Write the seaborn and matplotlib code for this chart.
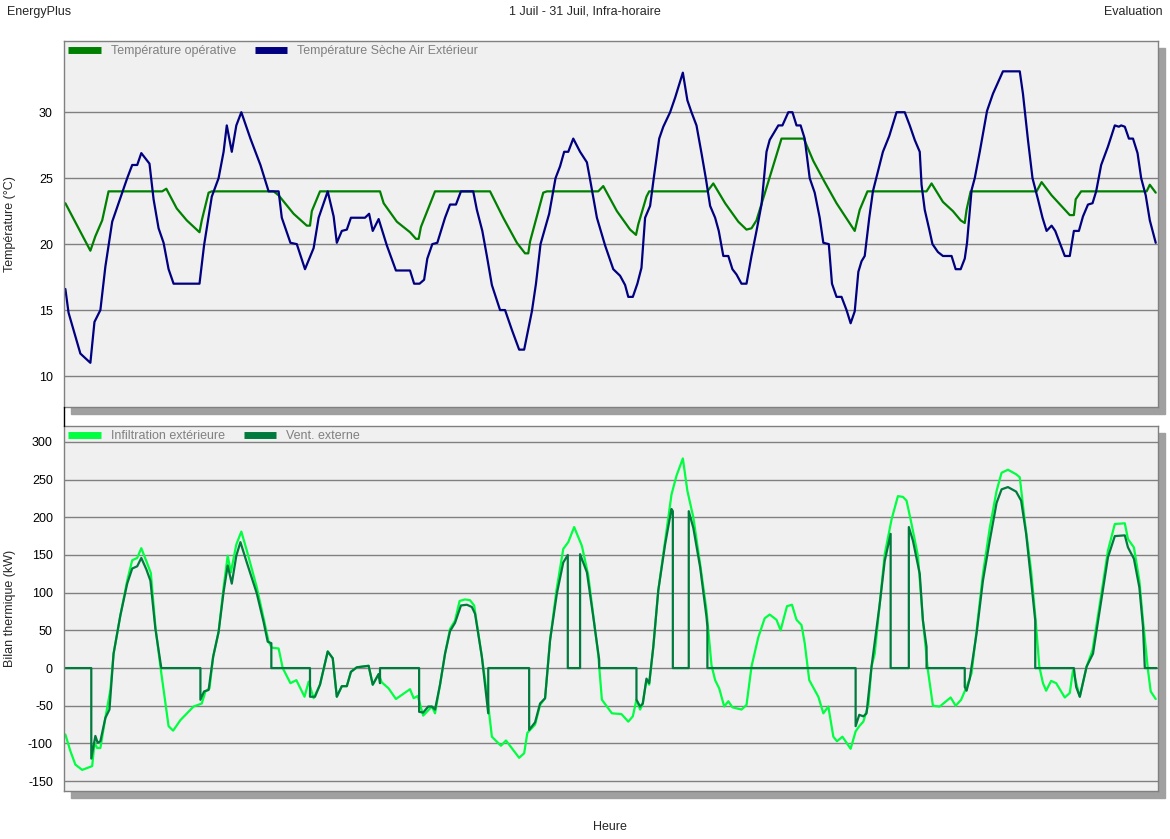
import matplotlib
matplotlib.use("Agg")
import matplotlib.pyplot as plt
import pandas as pd
import seaborn as sns
from matplotlib.lines import Line2D
from matplotlib.patches import Rectangle

# --- data (hours from start of the plotted period) ---
op_hours = [0, 5.5, 6.6, 8.1, 9.5, 21.3, 22.2, 24.5, 26.7, 29.5, 30.0, 31.5, 32.2, 45.8, 46.9, 50.2,
            53.1, 53.8, 54.2, 56.0, 69.2, 70.0, 72.9, 75.8, 77.1, 77.7, 78.2, 81.3, 93.4, 96.3, 99.3,
            101.1, 101.8, 102.2, 105.1, 105.9, 117.2, 118.3, 121.3, 124.2, 125.5, 126.0, 127.8, 128.4,
            141.2, 142.5, 145.1, 148.0, 149.8, 150.9, 152.0, 157.5, 162.4, 164.5, 167.0, 169.6, 173.6,
            174.7, 176.4, 189.4, 190.5, 193.0, 195.2, 196.9, 197.8, 198.2, 199.1, 213.6, 214.7, 216.9,
            220.9, 221.8, 222.2, 223.4, 237.8, 238.5, 239.8]
op_temp = [23.1, 19.5, 20.6, 21.8, 24.0, 24.0, 24.2, 22.7, 21.8, 20.9, 21.8, 23.9, 24.0, 24.0, 23.7, 22.3,
           21.4, 21.4, 22.5, 24.0, 24.0, 23.1, 21.7, 20.9, 20.4, 20.4, 21.3, 24.0, 24.0, 22.0, 20.1,
           19.3, 19.3, 20.2, 23.9, 24.0, 24.0, 24.4, 22.5, 21.1, 20.7, 21.5, 23.6, 24.0,
           24.0, 24.6, 23.1, 21.7, 21.1, 21.2, 21.8, 28.0, 28.0, 26.3, 24.7, 23.1, 21.0,
           22.6, 24.0, 24.0, 24.6, 23.2, 22.5, 21.8, 21.6, 22.6, 24.0, 24.0, 24.7, 23.7,
           22.2, 22.2, 23.4, 24.0, 24.0, 24.5, 23.9]

ext_hours = [0.0, 0.7, 2.2, 3.3, 5.5, 6.4, 7.7, 8.8, 10.3, 11.7, 13.6, 14.7, 15.8, 16.7, 18.5, 19.4, 20.5,
             21.6, 22.7, 23.8, 29.5, 30.5, 32.2, 33.7, 34.8, 35.5, 36.6, 37.6, 38.7, 40.7, 42.9, 44.7,
             46.9, 47.6, 49.5, 50.9, 52.7, 54.6, 55.7, 57.7, 59.0, 59.7, 60.8, 61.9, 62.8, 65.9, 66.8,
             67.6, 68.9, 70.7, 72.7, 75.8, 76.7, 77.9, 78.9, 79.6, 80.7, 81.8, 83.5, 84.6, 85.9, 87.0,
             89.7, 90.5, 91.7, 92.7, 93.8, 95.6, 96.7, 98.2, 99.8, 100.9, 102.6, 103.5, 104.5, 106.4,
             107.8, 108.8, 109.7, 110.6, 111.7, 113.2, 114.7, 115.4, 116.9, 118.7, 120.5, 122.0, 123.1,
             123.8, 124.8, 125.8, 126.7, 127.5, 128.6, 129.4, 130.6, 131.5, 133.0, 134.1, 135.8, 136.8,
             137.7, 138.8, 139.9, 140.9, 141.8, 142.9, 143.7, 144.7, 145.8, 146.7, 147.6, 148.7, 149.8,
             150.9, 152.0, 153.1, 154.2, 154.9, 156.8, 157.7, 159.0, 159.9, 160.8, 161.7, 162.6, 163.7,
             164.8, 165.9, 166.7, 167.9, 168.6, 169.6, 170.7, 171.8, 172.7, 173.6, 174.4, 175.1, 175.8,
             176.8, 177.6, 179.8, 181.2, 182.8, 184.6, 185.7, 186.8, 187.9, 188.3, 189.0, 190.0, 190.7,
             191.9, 193.0, 194.9, 195.8, 196.9, 197.8, 198.3, 199.3, 200.0, 201.1, 202.7, 204.0, 206.2,
             209.9, 210.6, 211.7, 212.7, 213.9, 214.9, 215.8, 216.9, 217.7, 218.7, 219.8, 220.9, 221.8,
             222.9, 223.8, 224.9, 225.9, 226.7, 227.8, 229.3, 230.8, 231.7, 232.2, 233.0, 233.9, 234.8,
             235.8, 236.6, 237.6, 238.5, 239.1, 239.8]
ext_temp = [16.6, 14.8, 13.0, 11.7, 11.0, 14.1, 15.0, 18.3, 21.7, 23.1, 25.0, 26.0, 26.0, 26.9, 26.1, 23.4, 21.2,
            20.1, 18.1, 17.0, 17.0, 19.9, 23.6, 25.0, 27.0, 29.0, 27.0, 29.0, 30.0, 28.0, 26.0, 24.0,
            24.0, 22.0, 20.1, 20.0, 18.1, 19.7, 22.0, 24.0, 22.1, 20.1, 21.0, 21.1, 22.0, 22.0, 22.3,
            21.0, 21.9, 19.9, 18.0, 18.0, 17.0, 17.0, 17.3, 18.9, 20.0, 20.1, 22.0, 23.0, 23.0, 24.0,
            24.0, 22.6, 21.0, 19.1, 16.9, 15.0, 15.0, 13.5, 12.0, 12.0, 14.9, 17.0, 20.0, 22.3,
            25.0, 25.9, 27.0, 27.0, 28.0, 27.0, 26.2, 24.9, 22.0, 19.9, 18.1, 17.6, 16.9,
            16.0, 16.0, 17.0, 18.2, 22.0, 22.9, 25.0, 28.0, 28.9, 30.0, 31.1, 33.0, 30.9,
            30.0, 29.0, 26.9, 24.9, 22.9, 22.0, 21.0, 19.1, 19.1, 18.1, 17.7, 17.0, 17.0,
            19.1, 21.0, 23.0, 27.0, 27.9, 29.0, 29.0, 30.0, 30.0, 29.0, 29.0, 28.0, 25.0,
            23.9, 22.0, 20.1, 20.0, 17.0, 16.0, 16.0, 15.0, 14.0, 14.9, 17.9, 18.7, 19.1,
            22.0, 24.0, 27.0, 28.2, 30.0, 30.0, 29.0, 27.9, 27.0, 24.5, 22.6, 21.1, 20.0,
            19.4, 19.1, 19.1, 18.1, 18.1, 18.9, 20.1, 24.1, 25.0, 27.0, 30.1, 31.4, 33.1,
            33.1, 31.4, 27.9, 25.0, 23.4, 22.0, 21.0, 21.4, 21.0, 20.1, 19.1, 19.1, 21.0,
            21.0, 22.1, 23.0, 23.1, 24.0, 26.0, 27.4, 29.0, 28.9, 29.0, 28.9, 28.0, 28.0,
            26.9, 25.0, 23.7, 21.8, 21.0, 20.1]

inf_hours = [0.0, 1.1, 2.2, 3.7, 5.9, 6.4, 7.0, 7.7, 8.8, 9.9, 10.6, 12.1, 13.6, 14.7, 15.8, 16.7, 17.8,
             18.8, 19.8, 20.9, 22.7, 23.7, 25.3, 28.2, 30.0, 30.8, 31.7, 32.5, 33.7, 34.8, 35.7, 36.4,
             37.6, 38.7, 39.9, 42.1, 43.6, 44.7, 45.4, 46.9, 47.8, 49.5, 50.8, 52.6, 53.5, 54.6, 56.0,
             57.7, 58.8, 59.7, 60.8, 61.9, 62.8, 64.1, 66.7, 67.6, 68.9, 69.6, 71.1, 72.7, 75.8, 76.6,
             77.5, 78.7, 79.8, 80.6, 81.3, 82.4, 83.5, 84.6, 85.7, 86.7, 87.9, 89.0, 89.9, 91.6, 92.8,
             93.8, 95.8, 96.9, 98.4, 99.8, 100.9, 101.6, 103.3, 104.4, 105.5, 106.6, 108.0, 109.5, 110.6,
             111.9, 113.6, 115.0, 117.2, 118.0, 120.2, 122.3, 123.8, 124.8, 125.6, 126.4, 126.9, 127.8,
             128.4, 129.3, 130.4, 131.9, 133.3, 134.4, 135.8, 136.8, 138.1, 139.6, 141.0, 142.1, 142.9,
             143.8, 144.9, 145.8, 146.7, 148.7, 149.8, 150.9, 152.4, 153.8, 154.9, 156.4, 157.3, 158.7,
             159.8, 160.8, 161.9, 162.6, 163.6, 165.6, 166.7, 167.8, 168.9, 169.7, 170.9, 172.7, 173.8,
             174.6, 175.5, 176.6, 177.3, 178.0, 179.1, 180.2, 181.7, 183.1, 184.2, 185.0, 186.1, 187.5,
             188.6, 189.7, 190.8, 192.3, 194.7, 195.8, 197.0, 198.2, 199.3, 200.4, 201.8, 203.3, 204.8,
             205.9, 207.3, 209.1, 209.9, 211.0, 212.4, 213.4, 214.2, 215.0, 215.7, 216.8, 217.9, 219.8,
             220.9, 221.6, 223.1, 224.6, 225.9, 227.5, 229.3, 230.8, 233.0, 233.7, 235.0, 236.2, 237.0,
             238.1, 238.7, 239.8]
inf_kw = [-88, -110, -128, -135, -130, -99, -106, -106, -66, -29, 19, 70, 116, 143, 146, 159, 142,
          126, 55, 2, -77, -83, -69, -51, -47, -31, -27, 15, 48, 107, 149, 127,
          164, 181, 156, 107, 66, 35, 27, 26, 0, -20, -16, -38, -18, -40, -22,
          22, 13, -38, -24, -24, -5, 1, 3, -22, -8, -19, -27, -41, -28, -40,
          -37, -63, -56, -51, -60, -22, 19, 52, 63, 89, 91, 90, 83, 15, -38,
          -91, -103, -96, -108, -119, -113, -86, -75, -49, -40, 37, 103, 158, 167,
          187, 162, 123, 17, -42, -60, -61, -71, -64, -42, -55, -49, -16,
          -22, 28, 103, 169, 230, 255, 278, 235, 200, 138, 77, 4, -16,
          -27, -51, -44, -52, -55, -49, 2, 41, 66, 71, 64, 50, 82,
          84, 64, 57, 33, -16, -38, -60, -51, -91, -97, -91, -107, -84,
          -77, -71, -49, 2, 19, 85, 151, 197, 228, 227, 222, 191, 149,
          63, -3, -50, -51, -39, -50, -42, -25, -7, 50, 125, 186, 235,
          259, 263, 257, 253, 195, 129, 63, 2, -20, -30, -17, -20, -39,
          -33, -3, -38, 2, 24, 85, 156, 191, 192, 171, 160, 116, 63,
          -3, -31, -41]

vent_hours = [0, 5.7, 5.7, 6.6, 7.1, 7.7, 8.8, 9.7, 10.6, 12.1, 13.6, 14.7, 15.8, 16.7, 17.8, 18.7, 19.8,
              21.1, 29.7, 29.7, 30.5, 31.5, 32.5, 33.7, 34.8, 35.7, 36.6, 37.6, 38.5, 39.9, 42.1, 43.6,
              44.5, 45.3, 45.3, 53.8, 53.8, 54.9, 56.0, 57.7, 58.8, 59.7, 60.8, 61.9, 62.8, 64.1, 66.7,
              67.6, 68.9, 69.2, 69.2, 77.8, 77.8, 78.7, 79.8, 80.6, 81.3, 82.4, 83.5, 84.6, 85.7, 87.0,
              88.3, 89.4, 90.1, 91.6, 93.0, 93.0, 102.0, 102.0, 103.3, 104.4, 105.5, 106.6, 108.1, 109.5,
              110.5, 110.5, 113.2, 113.2, 114.7, 116.1, 117.4, 117.4, 125.6, 125.6, 126.4, 127.0, 127.8,
              128.4, 129.3, 130.4, 131.9, 133.3, 133.6, 133.6, 137.1, 137.1, 138.1, 139.6, 141.0, 141.2,
              141.2, 173.8, 173.8, 174.6, 175.5, 176.2, 177.3, 179.1, 180.2, 181.5, 181.5, 185.5, 185.5,
              186.4, 187.9, 188.6, 189.4, 189.4, 197.8, 197.8, 198.2, 198.9, 200.4, 201.8, 203.3, 204.8,
              205.9, 207.3, 209.1, 210.2, 211.3, 212.4, 213.3, 213.3, 221.8, 222.3, 223.1, 224.6, 226.0,
              227.5, 229.3, 230.8, 233.0, 233.7, 235.0, 236.2, 237.0, 237.4, 240.0]
vent_kw = [0, 0, -120, -90, -99, -97, -66, -55, 19, 70, 112, 132, 135, 146, 131, 116, 52,
           0, 0, -42, -31, -29, 15, 48, 101, 136, 112, 149, 167, 140, 99, 61,
           35, 33, 0, 0, -38, -38, -22, 22, 13, -38, -24, -24, -5, 1, 3,
           -22, -8, -20, 0, 0, -58, -59, -51, -51, -55, -22, 19, 49, 60, 83,
           84, 81, 72, 15, -60, 0, 0, -82, -72, -47, -40, 37, 99, 140,
           150, 0, 0, 151, 127, 68, 11, 0, 0, -42, -51, -47, -14,
           -20, 28, 103, 164, 211, 208, 0, 0, 208, 186, 134, 68, 55,
           0, 0, -77, -62, -64, -60, 2, 85, 142, 178, 0, 0, 187,
           169, 125, 63, 28, 0, 0, -25, -30, -14, 46, 116, 169, 219,
           237, 240, 234, 222, 178, 116, 63, 0, 0, -25, -38, 2, 19,
           77, 147, 175, 176, 160, 145, 107, 55, 0, 0]

temp_ticks = [10, 15, 20, 25, 30]
kw_ticks = [-150, -100, -50, 0, 50, 100, 150, 200, 250, 300]

sns.set_theme(style="white")
plt.rcParams["font.family"] = ["Liberation Sans", "DejaVu Sans"]
plt.rcParams["axes.unicode_minus"] = False

W, H = 1170, 839
fig = plt.figure(figsize=(W / 100, H / 100), dpi=100)
fig.patch.set_facecolor("white")


def fx(px):
    return px / W


def fy(py):
    return 1 - py / H


def make_axes(left, top, right, bottom):
    # drop shadow behind the panel
    fig.add_artist(Rectangle((fx(left + 7), fy(bottom + 7)), fx(right - left), fy(top) - fy(bottom),
                             transform=fig.transFigure, color="#a0a0a0", zorder=0))
    ax = fig.add_axes([fx(left), fy(bottom), fx(right - left), fy(top) - fy(bottom)], zorder=1)
    ax.set_facecolor("#eff0ef")
    for s in ax.spines.values():
        s.set_color("#808080")
        s.set_linewidth(1)
    ax.grid(axis="y", color="#808080", linewidth=1)
    ax.set_axisbelow(True)
    ax.set_xlim(-0.3, 240.3)
    ax.set_xticks([])
    ax.tick_params(axis="y", length=4, color="#808080", labelsize=9, pad=4, labelcolor="black")
    return ax


ax1 = make_axes(64, 41, 1158, 407)
ax2 = make_axes(64, 426, 1158, 791)

df_op = pd.DataFrame({"h": op_hours, "v": op_temp})
df_ext = pd.DataFrame({"h": ext_hours, "v": ext_temp})
df_inf = pd.DataFrame({"h": inf_hours, "v": inf_kw})
df_vent = pd.DataFrame({"h": vent_hours, "v": vent_kw})

c_op, c_ext, c_inf, c_vent = "#008000", "#000080", "#00ff40", "#007a3d"

sns.lineplot(data=df_op, x="h", y="v", ax=ax1, color=c_op, lw=1.6, sort=False, estimator=None)
sns.lineplot(data=df_ext, x="h", y="v", ax=ax1, color=c_ext, lw=1.6, sort=False, estimator=None)
sns.lineplot(data=df_inf, x="h", y="v", ax=ax2, color=c_inf, lw=1.6, sort=False, estimator=None)
sns.lineplot(data=df_vent, x="h", y="v", ax=ax2, color=c_vent, lw=1.6, sort=False, estimator=None)

ax1.set_ylim(7.65, 35.4)
ax1.set_yticks(temp_ticks)
ax2.set_ylim(-163, 321)
ax2.set_yticks(kw_ticks)
for ax in (ax1, ax2):
    ax.set_xlabel("")
    ax.yaxis.set_label_coords(-0.0435, 0.5)

ax1.set_ylabel("Température (°C)", fontsize=9)
ax2.set_ylabel("Bilan thermique (kW)", fontsize=9)


def add_legend(ax, labels, colors):
    handles = [Line2D([], [], color=c, lw=5, solid_capstyle="butt") for c in colors]
    leg = ax.legend(handles, labels, loc="upper left", bbox_to_anchor=(0.0, 1.0), ncol=2,
                    frameon=False, fontsize=9, handlelength=2.6, handletextpad=0.8,
                    columnspacing=1.5, borderaxespad=0.15, borderpad=0.2)
    for t in leg.get_texts():
        t.set_color("#808080")


add_legend(ax1, ["Température opérative", "Température Sèche Air Extérieur"], [c_op, c_ext])
add_legend(ax2, ["Infiltration extérieure", "Vent. externe"], [c_inf, c_vent])

fig.add_artist(Line2D([fx(64), fx(64)], [fy(407), fy(426)], transform=fig.transFigure,
                      color="black", lw=1))

fig.text(fx(7), fy(12), "EnergyPlus", fontsize=9, ha="left", va="center")
fig.text(fx(585), fy(12), "1 Juil - 31 Juil, Infra-horaire", fontsize=9, ha="center", va="center")
fig.text(fx(1163), fy(12), "Evaluation", fontsize=9, ha="right", va="center")
fig.text(fx(610), fy(827), "Heure", fontsize=9, ha="center", va="center")

fig.savefig("out.png", dpi=100)
